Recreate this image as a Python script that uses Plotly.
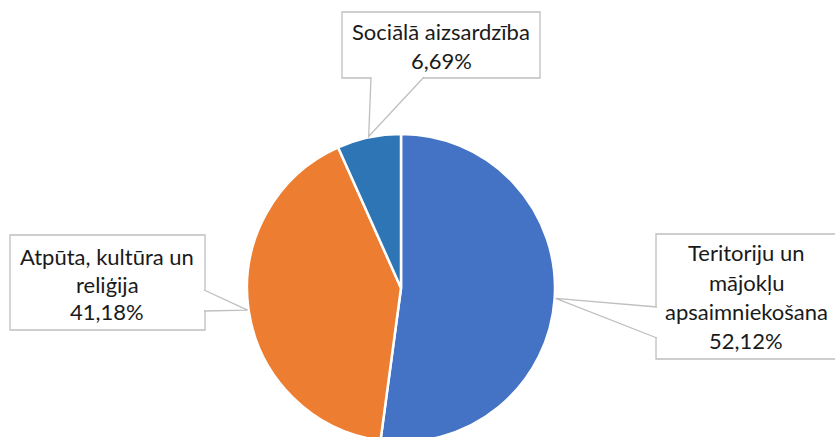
import math
import plotly.graph_objects as go

labels = ["Teritoriju un mājokļu apsaimniekošana", "Atpūta, kultūra un reliģija", "Sociālā aizsardzība"]
values = [52.12, 41.18, 6.69]
label_lines = [
    ["Teritoriju un", "mājokļu", "apsaimniekošana", "52,12%"],
    ["Atpūta, kultūra un", "reliģija", "41,18%"],
    ["Sociālā aizsardzība", "6,69%"],
]
colors = ["#4472C4", "#ED7D31", "#2E75B6"]

W, H = 835, 442
CX, R = 401, 154
TOP = 134
CY = TOP + R

def px(x):
    return x / W

def py(y):
    return 1 - y / H

fig = go.Figure(go.Pie(
    labels=labels, values=values, sort=False, direction="clockwise", rotation=0,
    marker=dict(colors=colors, line=dict(color="white", width=2.5)),
    textinfo="none", hoverinfo="label+percent", showlegend=False,
    domain=dict(x=[px(CX - R), px(CX + R)], y=[0, py(TOP)]),
))

# label box layout: rectangle, pointer base points, line centres y, text centre x
boxes = [
    dict(rect=(656, 234, 837, 359), base=((657, 307), (657, 338)), ys=[253, 282, 311, 340], tx=746),
    dict(rect=(10, 235, 205, 330), base=((204, 290), (204, 311)), ys=[256, 284, 311], tx=107),
    dict(rect=(342, 12, 540, 78), base=((371, 77), (424, 77)), ys=[32, 61], tx=441),
]

total = sum(values)
cum = 0.0
shapes, annotations = [], []
line_col = "#BFBFBF"
for v, lines, b in zip(values, label_lines, boxes):
    mid = (cum + v / 2) / total
    cum += v
    th = 2 * math.pi * mid
    tx_ = CX + (R + 1) * math.sin(th)
    ty_ = CY - (R + 1) * math.cos(th)
    x0, y0, x1, y1 = b["rect"]
    shapes.append(dict(type="rect", xref="paper", yref="paper",
                       x0=px(x0), y0=py(y1), x1=px(x1), y1=py(y0),
                       line=dict(color=line_col, width=1.3), fillcolor="white", layer="above"))
    (ax, ay), (bx, by) = b["base"]
    path = f"M {px(ax)},{py(ay)} L {px(tx_)},{py(ty_)} L {px(bx)},{py(by)}"
    shapes.append(dict(type="path", xref="paper", yref="paper", path=path,
                       line=dict(color=line_col, width=1.3), fillcolor="white", layer="above"))
    for t, yy in zip(lines, b["ys"]):
        annotations.append(dict(text=t, x=px(b["tx"]), y=py(yy), xref="paper", yref="paper",
                                xanchor="center", yanchor="middle", showarrow=False,
                                font=dict(family="Lato, Noto Sans, sans-serif", size=22, color="#1a1a1a")))

fig.update_layout(
    width=W, height=H, margin=dict(l=0, r=0, t=0, b=0),
    paper_bgcolor="white", plot_bgcolor="white",
    shapes=shapes, annotations=annotations,
)

fig.write_html(
    "out.html",
    config={"displayModeBar": False},
    post_script="document.body.style.margin='0';document.body.style.overflow='hidden';"
                "document.documentElement.style.overflow='hidden';",
)
